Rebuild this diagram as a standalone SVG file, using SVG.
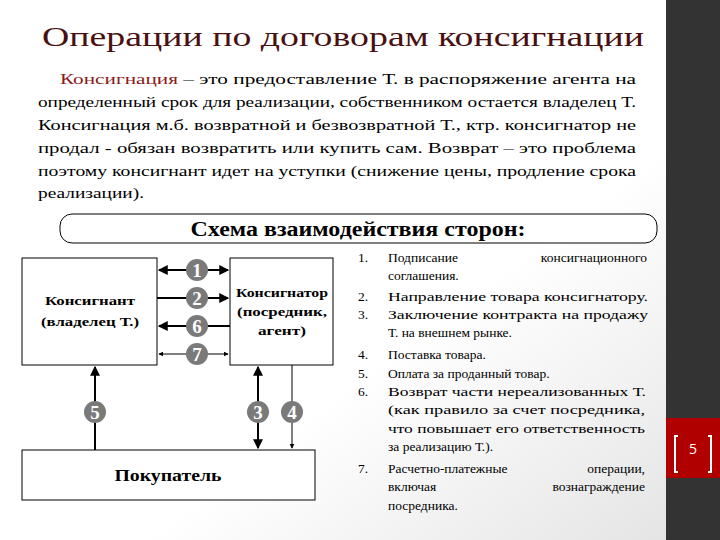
<svg xmlns="http://www.w3.org/2000/svg" width="720" height="540" viewBox="0 0 720 540">
<defs>
<linearGradient id="bg" x1="0" y1="0" x2="1" y2="1"><stop offset="0.6" stop-color="#ffffff"/><stop offset="1" stop-color="#e2e2e2"/></linearGradient>
<marker id="ah" viewBox="0 0 8 8" refX="7" refY="4" markerWidth="5" markerHeight="5" orient="auto-start-reverse"><path d="M0,0 L8,4 L0,8 z" fill="#000"/></marker>
<style>
.s{font-family:'Liberation Serif','DejaVu Serif',serif;fill:#000}
.p{font-size:15px}
.l{font-size:13.5px}
.e{text-anchor:end}
.box{fill:#fff;stroke:#000;stroke-width:1}
.c{fill:#7a7a7a}
.ct{font-family:'Liberation Serif','DejaVu Serif',serif;font-size:19px;fill:#fff;text-anchor:middle;font-weight:bold}
.ln{stroke:#000;stroke-width:2;fill:none}
.tn{stroke:#000;stroke-width:1;fill:none}
</style>
</defs>
<rect width="720" height="540" fill="url(#bg)"/>
<rect x="666" y="0" width="54" height="540" fill="#333"/>
<rect x="666" y="418" width="54" height="60" fill="#b00000"/>
<text x="693" y="454" font-family="Open Sans,sans-serif" font-size="14" fill="#fff" text-anchor="middle">5</text>
<path d="M678,436 h-3 v36 h3 M708,436 h3 v36 h-3" stroke="#fff" stroke-width="2" fill="none"/>
<text x="42" y="46" class="s" font-size="27" style="fill:#4a1010" textLength="602" lengthAdjust="spacingAndGlyphs">Операции по договорам консигнации</text>
<g class="s p">
<text x="60" y="84" textLength="576" lengthAdjust="spacingAndGlyphs"><tspan fill="#8b1a1a">Консигнация</tspan> – это предоставление Т. в распоряжение агента на</text>
<text x="38" y="107" textLength="598" lengthAdjust="spacingAndGlyphs">определенный срок для реализации, собственником остается владелец Т.</text>
<text x="38" y="130" textLength="598" lengthAdjust="spacingAndGlyphs">Консигнация м.б. возвратной и безвозвратной Т., ктр. консигнатор не</text>
<text x="38" y="153" textLength="598" lengthAdjust="spacingAndGlyphs">продал - обязан возвратить или купить сам. Возврат – это проблема</text>
<text x="38" y="176" textLength="598" lengthAdjust="spacingAndGlyphs">поэтому консигнант идет на уступки (снижение цены, продление срока</text>
<text x="38" y="198" textLength="106" lengthAdjust="spacingAndGlyphs">реализации).</text>
</g>
<g id="header">
<rect x="60" y="214" width="597" height="29" rx="12" fill="#fff" stroke="#000"/>
<text x="358" y="236" class="s" font-size="20" font-weight="bold" text-anchor="middle" textLength="335" lengthAdjust="spacingAndGlyphs">Схема взаимодействия сторон:</text>
</g>
<g id="connectors">
<line x1="159" y1="270" x2="228" y2="270" class="ln" marker-start="url(#ah)" marker-end="url(#ah)"/>
<line x1="157" y1="298" x2="228" y2="298" class="ln" marker-end="url(#ah)"/>
<line x1="230" y1="326" x2="159" y2="326" class="ln" marker-end="url(#ah)"/>
<line x1="159" y1="354" x2="228" y2="354" class="tn" marker-start="url(#ah)" marker-end="url(#ah)"/>
<line x1="95" y1="450" x2="95" y2="367" class="ln" marker-end="url(#ah)"/>
<line x1="258" y1="367" x2="258" y2="448" class="ln" marker-start="url(#ah)" marker-end="url(#ah)"/>
<line x1="292" y1="365" x2="292" y2="448" class="tn" marker-end="url(#ah)"/>
</g>
<g id="c1"><circle cx="197" cy="270" r="11" class="c"/><text x="197" y="277" class="ct">1</text></g>
<g id="c2"><circle cx="197" cy="298" r="11" class="c"/><text x="197" y="305" class="ct">2</text></g>
<g id="c6"><circle cx="197" cy="326" r="11" class="c"/><text x="197" y="333" class="ct">6</text></g>
<g id="c7"><circle cx="197" cy="354" r="11" class="c"/><text x="197" y="361" class="ct">7</text></g>
<g id="c5"><circle cx="95" cy="412" r="11" class="c"/><text x="95" y="419" class="ct">5</text></g>
<g id="c3"><circle cx="258" cy="412" r="11" class="c"/><text x="258" y="419" class="ct">3</text></g>
<g id="c4"><circle cx="292" cy="412" r="11" class="c"/><text x="292" y="419" class="ct">4</text></g>
<g id="konsignant"><rect x="22" y="258" width="135" height="107" class="box"/>
<text x="90" y="305" class="s" font-size="13" font-weight="bold" text-anchor="middle" textLength="90" lengthAdjust="spacingAndGlyphs">Консигнант</text>
<text x="90" y="326" class="s" font-size="13" font-weight="bold" text-anchor="middle" textLength="98" lengthAdjust="spacingAndGlyphs">(владелец Т.)</text></g>
<g id="konsignator"><rect x="230" y="258" width="103" height="107" class="box"/>
<text x="282" y="297" class="s" font-size="13" font-weight="bold" text-anchor="middle" textLength="92" lengthAdjust="spacingAndGlyphs">Консигнатор</text>
<text x="282" y="316" class="s" font-size="13" font-weight="bold" text-anchor="middle" textLength="90" lengthAdjust="spacingAndGlyphs">(посредник,</text>
<text x="282" y="335" class="s" font-size="13" font-weight="bold" text-anchor="middle" textLength="48" lengthAdjust="spacingAndGlyphs">агент)</text></g>
<g id="pokupatel"><rect x="22" y="450" width="293" height="50" class="box"/>
<text x="168" y="481" class="s" font-size="16" font-weight="bold" text-anchor="middle" textLength="107" lengthAdjust="spacingAndGlyphs">Покупатель</text></g>
<g class="s l">
<text x="358" y="262">1.</text><text x="388" y="262">Подписание</text><text x="647" y="262" class="e">консигнационного</text>
<text x="388" y="280">соглашения.</text>
<text x="358" y="301">2.</text><text x="388" y="301" textLength="260" lengthAdjust="spacingAndGlyphs">Направление товара консигнатору.</text>
<text x="358" y="319">3.</text><text x="388" y="319" textLength="260" lengthAdjust="spacingAndGlyphs">Заключение контракта на продажу</text>
<text x="388" y="337">Т. на внешнем рынке.</text>
<text x="358" y="359">4.</text><text x="388" y="359">Поставка товара.</text>
<text x="358" y="378">5.</text><text x="388" y="378">Оплата за проданный товар.</text>
<text x="358" y="396">6.</text><text x="388" y="396" textLength="258" lengthAdjust="spacingAndGlyphs">Возврат части нереализованных Т.</text>
<text x="388" y="414" textLength="257" lengthAdjust="spacingAndGlyphs">(как правило за счет посредника,</text>
<text x="388" y="433" textLength="257" lengthAdjust="spacingAndGlyphs">что повышает его ответственность</text>
<text x="388" y="451">за реализацию Т.).</text>
<text x="358" y="473">7.</text><text x="388" y="473">Расчетно-платежные</text><text x="645" y="473" class="e">операции,</text>
<text x="388" y="491">включая</text><text x="645" y="491" class="e">вознаграждение</text>
<text x="388" y="510">посредника.</text>
</g>
</svg>
